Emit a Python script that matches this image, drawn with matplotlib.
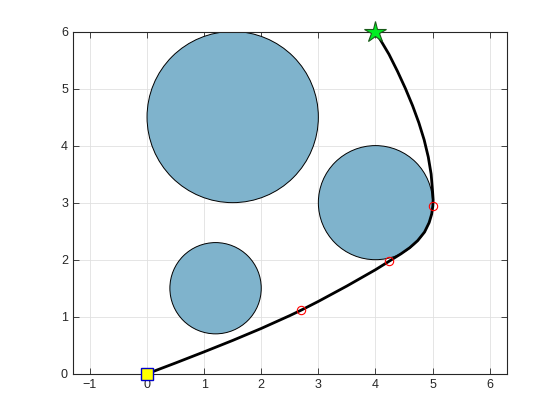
import matplotlib.pyplot as plt
from matplotlib.patches import Circle

plt.rcParams['font.family'] = ['Liberation Sans', 'DejaVu Sans']

# obstacles: centre x, centre y, radius
obs_x = [1.5, 4.0, 1.2]
obs_y = [4.5, 3.0, 1.5]
obs_r = [1.5, 1.0, 0.8]

# path
path_x = [0.0, 0.5, 1.0, 1.5, 2.0, 2.5, 2.7, 3.0, 3.5, 4.0, 4.23, 4.33, 4.45, 4.60,
          4.74, 4.86, 4.94, 4.985, 5.005, 5.01, 5.0, 4.975, 4.925, 4.853, 4.76, 4.65,
          4.525, 4.387, 4.237, 4.0]
path_y = [0.0, 0.19, 0.385, 0.585, 0.795, 1.02, 1.116, 1.269, 1.539, 1.824, 1.967,
          2.03, 2.105, 2.21, 2.335, 2.485, 2.65, 2.80, 2.94, 3.05, 3.2, 3.5, 3.8, 4.1,
          4.4, 4.7, 5.0, 5.3, 5.6, 6.0]

# intermediate waypoints
wp_x = [2.70, 4.23, 5.005]
wp_y = [1.12, 1.97, 2.94]

start = (0, 0)
goal = (4, 6)

fig = plt.figure(figsize=(5.6, 4.2), dpi=100)
ax = fig.add_axes([0.13, 0.11, 0.775, 0.815])

for cx, cy, r in zip(obs_x, obs_y, obs_r):
    ax.add_patch(Circle((cx, cy), r, facecolor='#7fb3cc', edgecolor='black', lw=0.7, zorder=2))

ax.plot(path_x, path_y, color='black', lw=2.0, zorder=3, solid_capstyle='round',
        solid_joinstyle='round')
ax.plot(wp_x, wp_y, 'o', mfc='none', mec='red', ms=6, mew=0.8, zorder=4)
ax.plot(*start, 's', mfc='yellow', mec='#0000cc', ms=9, mew=1.0, zorder=5, clip_on=False)
ax.plot(*goal, '*', mfc='#00ee22', mec='#1a5a1a', ms=16, mew=0.8, zorder=5, clip_on=False)

ax.set_xlim(-1.3, 6.3)
ax.set_ylim(0, 6)
ax.set_xticks(range(-1, 7))
ax.set_yticks(range(0, 7))
ax.grid(True, color='#e0e0e0', lw=0.6)
ax.set_axisbelow(True)
ax.tick_params(direction='in', top=True, right=True, length=4, labelsize=9,
               colors='#262626', width=0.6)
for s in ax.spines.values():
    s.set_color('#262626')
    s.set_linewidth(0.8)

fig.savefig('out.png', dpi=100)
